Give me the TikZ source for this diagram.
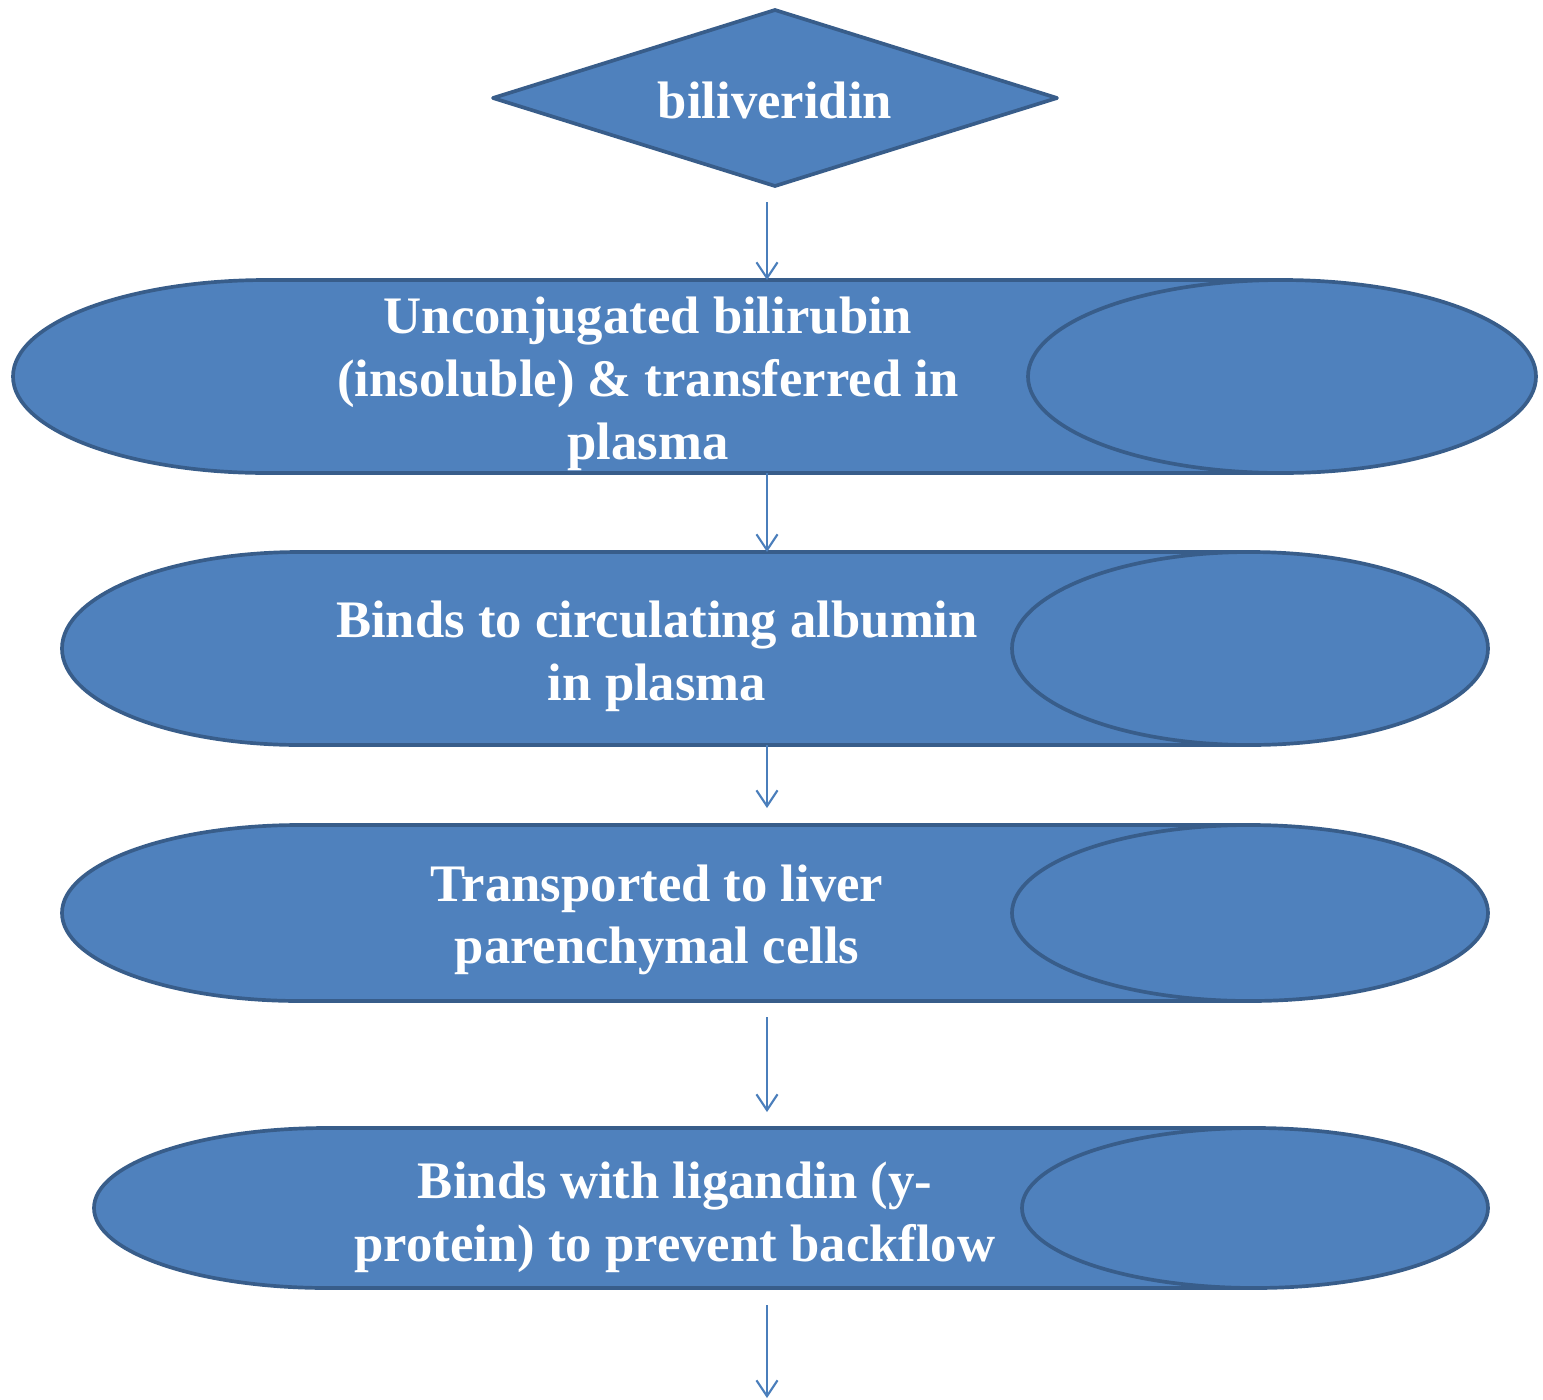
\documentclass[tikz,border=0pt]{standalone}
\usepackage{fontspec}
\setmainfont{Liberation Serif}
\usetikzlibrary{arrows.meta}
\begin{document}
\begin{tikzpicture}[x=0.02cm,y=0.02cm,
  shapefill/.style={fill=boxblue,draw=edgeblue,line width=2.1pt,line join=round},
  lbl/.style={text=white,font=\fontsize{30}{35.7}\selectfont\bfseries,align=center,inner sep=0pt},
  flow/.style={draw=arrowblue,line width=1.2pt,-{Straight Barb[length=9pt,width=12pt,line width=1.2pt]}}]
\definecolor{boxblue}{HTML}{4F81BD}
\definecolor{edgeblue}{HTML}{385D8A}
\definecolor{arrowblue}{HTML}{4A7EBB}
\useasboundingbox (0,0) rectangle (1543,-1400);
% diamond
\draw[shapefill] (493,-98) -- (775,-10) -- (1057,-98) -- (775,-186) -- cycle;
\node[lbl] (d) at (775,-100) {biliveridin};
% cylinder 1
\draw[shapefill] (1282,-280) -- (267,-280) arc[start angle=90,end angle=270,x radius=254,y radius=96.5] -- (1282,-473) -- cycle;
\draw[shapefill] (1282,-376.5) ellipse[x radius=254,y radius=96.5];
\node[lbl] (c1) at (648,-384) {Unconjugated bilirubin\\(insoluble) \& transferred in\\plasma};
% cylinder 2
\draw[shapefill] (1250,-552) -- (300,-552) arc[start angle=90,end angle=270,x radius=238,y radius=96.5] -- (1250,-745) -- cycle;
\draw[shapefill] (1250,-648.5) ellipse[x radius=238,y radius=96.5];
\node[lbl] (c2) at (657,-656) {Binds to circulating albumin\\in plasma};
% cylinder 3
\draw[shapefill] (1250,-825) -- (300,-825) arc[start angle=90,end angle=270,x radius=238,y radius=88] -- (1250,-1001) -- cycle;
\draw[shapefill] (1250,-913) ellipse[x radius=238,y radius=88];
\node[lbl] (c3) at (657,-920) {Transported to liver\\parenchymal cells};
% cylinder 4
\draw[shapefill] (1255,-1128) -- (327,-1128) arc[start angle=90,end angle=270,x radius=233,y radius=80] -- (1255,-1288) -- cycle;
\draw[shapefill] (1255,-1208) ellipse[x radius=233,y radius=80];
\node[lbl] (c4) at (675,-1217) {Binds with ligandin (y-\\protein) to prevent backflow};
% arrow end points
\coordinate (a1s) at (767,-202); \coordinate (a1e) at (767,-280);
\coordinate (a2s) at (767,-473); \coordinate (a2e) at (767,-552);
\coordinate (a3s) at (767,-745); \coordinate (a3e) at (767,-808);
\coordinate (a4s) at (767,-1017); \coordinate (a4e) at (767,-1112);
\coordinate (a5s) at (767,-1305); \coordinate (a5e) at (767,-1398);
\draw[flow] (a1s) -- (a1e);
\draw[flow] (a2s) -- (a2e);
\draw[flow] (a3s) -- (a3e);
\draw[flow] (a4s) -- (a4e);
\draw[flow] (a5s) -- (a5e);
\end{tikzpicture}
\end{document}
